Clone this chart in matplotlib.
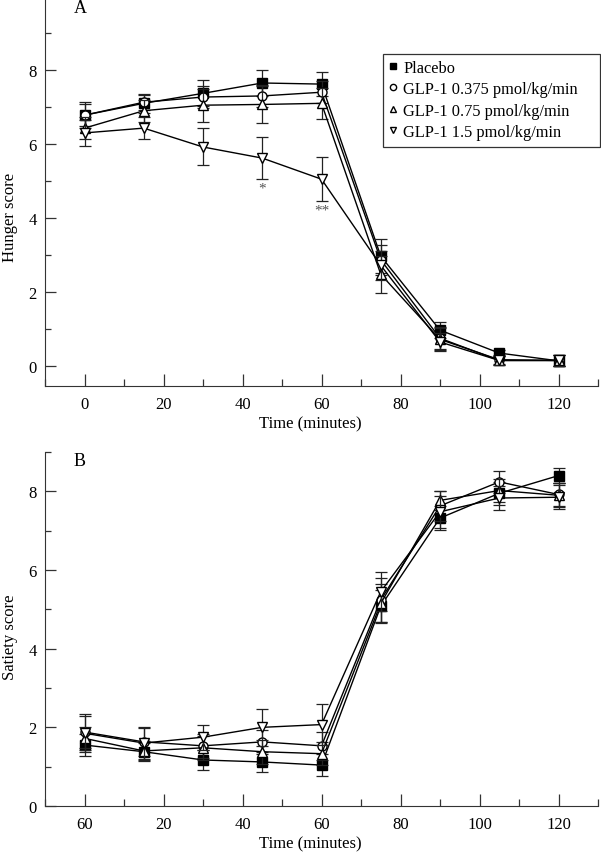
"""
    Hunger and satiety scores, GLP-1 vs placebo.
"""

import matplotlib
matplotlib.use("Agg")
import matplotlib.pyplot as plt
from matplotlib.lines import Line2D
from matplotlib.patches import Rectangle
from matplotlib.ticker import MultipleLocator

plt.rcParams['font.family'] = ['Liberation Serif', 'DejaVu Serif']

# --- data ---
times = [0, 15, 30, 45, 60, 75, 90, 105, 120]
labels = ["Placebo", "GLP-1 0.375 pmol/kg/min", "GLP-1 0.75 pmol/kg/min", "GLP-1 1.5 pmol/kg/min"]

hunger_placebo = [6.78, 7.10, 7.37, 7.65, 7.62, 2.97, 0.97, 0.35, 0.14]
hunger_placebo_err = [0.35, 0.25, 0.35, 0.35, 0.33, 0.45, 0.22, 0.08, 0.15]
hunger_low = [6.78, 7.13, 7.27, 7.30, 7.40, 2.87, 0.75, 0.15, 0.15]
hunger_low_err = [0.30, 0.20, 0.30, 0.30, 0.30, 0.40, 0.30, 0.12, 0.15]
hunger_mid = [6.43, 6.90, 7.05, 7.07, 7.10, 2.48, 0.72, 0.17, 0.15]
hunger_mid_err = [0.30, 0.30, 0.45, 0.50, 0.42, 0.50, 0.30, 0.12, 0.15]
hunger_high = [6.30, 6.43, 5.92, 5.62, 5.05, 2.72, 0.65, 0.15, 0.15]
hunger_high_err = [0.35, 0.30, 0.50, 0.57, 0.60, 0.40, 0.25, 0.12, 0.15]

satiety_placebo = [1.55, 1.38, 1.17, 1.12, 1.04, 5.08, 7.32, 7.95, 8.40]
satiety_placebo_err = [0.27, 0.22, 0.26, 0.26, 0.27, 0.40, 0.30, 0.30, 0.20]
satiety_low = [1.88, 1.63, 1.53, 1.63, 1.53, 5.24, 7.63, 8.24, 7.92]
satiety_low_err = [0.40, 0.35, 0.30, 0.30, 0.35, 0.55, 0.38, 0.28, 0.30]
satiety_mid = [1.72, 1.40, 1.48, 1.38, 1.33, 5.15, 7.77, 8.02, 7.90]
satiety_mid_err = [0.30, 0.25, 0.30, 0.30, 0.30, 0.50, 0.25, 0.30, 0.30]
satiety_high = [1.85, 1.60, 1.75, 2.00, 2.07, 5.45, 7.48, 7.83, 7.85]
satiety_high_err = [0.48, 0.40, 0.32, 0.47, 0.53, 0.50, 0.40, 0.30, 0.30]

x_ticks = [0, 20, 40, 60, 80, 100, 120]
x_ticklabels_b = ["60", "20", "40", "60", "80", "100", "120"]  # as printed in panel B

markers = ["s", "o", "^", "v"]
faces = ["black", "white", "white", "white"]

fig = plt.figure(figsize=(6.01, 8.53), dpi=100)
ax_a = fig.add_axes([45/601, 1 - 387/853, 553/601, 387/853])
ax_b = fig.add_axes([45/601, 1 - 807/853, 553/601, 354/853])


def draw_panel(ax, series, errs):
    for i in range(len(series)):
        ax.errorbar(times, series[i], yerr=errs[i], fmt="-", marker=markers[i],
                    color="black", mfc=faces[i], mec="black", ms=6.5, lw=1.0,
                    ecolor="#222222", elinewidth=0.9, capsize=4.5, capthick=0.9,
                    zorder=3 + i)


def style_axes(ax):
    ax.spines["top"].set_visible(False)
    ax.spines["right"].set_visible(False)
    ax.spines["left"].set_color("#333333")
    ax.spines["bottom"].set_color("#333333")
    ax.set_xlim(-10, 130)
    ax.set_xticks(x_ticks)
    ax.xaxis.set_minor_locator(MultipleLocator(10))
    ax.yaxis.set_major_locator(MultipleLocator(2))
    ax.yaxis.set_minor_locator(MultipleLocator(1))
    ax.tick_params(axis="x", which="major", direction="in", length=9, width=0.9, labelsize=12, pad=7, color="#333333")
    ax.tick_params(axis="x", which="minor", direction="in", length=5, width=0.9, color="#333333")
    ax.tick_params(axis="y", which="major", direction="in", length=8, width=0.9, labelsize=12, pad=6, color="#333333")
    ax.tick_params(axis="y", which="minor", direction="in", length=4, width=0.9, color="#333333")
    ax.set_xlabel("Time (minutes)", fontsize=12)


# panel A
draw_panel(ax_a, [hunger_placebo, hunger_low, hunger_mid, hunger_high],
           [hunger_placebo_err, hunger_low_err, hunger_mid_err, hunger_high_err])
style_axes(ax_a)
ax_a.set_ylim(-0.54, 9.92)
ax_a.set_ylabel("Hunger score", fontsize=12)
ax_a.yaxis.set_label_coords(-0.049, 0.437)
ax_a.xaxis.set_label_coords(0.48, -0.075)
ax_a.text(45, 4.8, "*", ha="center", va="center", fontsize=11, color="#555555")
ax_a.text(60, 4.22, "**", ha="center", va="center", fontsize=11, color="#555555")
ax_a.text(0.052, 1.0, "A", transform=ax_a.transAxes, fontsize=13, va="top")

# legend: the printed box is wider than its text, so the frame is drawn by hand
handles = []
for i in range(len(labels)):
    handles.append(Line2D([], [], ls="none", marker=markers[i], mfc=faces[i], mec="black", ms=4.5))
box_l, box_t, box_r, box_b = 383, 55, 600, 148   # pixels from top-left
leg = ax_a.legend(handles, labels, loc="upper left",
                  bbox_to_anchor=(box_l / 601, 1 - box_t / 853), bbox_transform=fig.transFigure,
                  fontsize=11.8, frameon=False,
                  handlelength=0.5, handletextpad=0.4, borderpad=0.35,
                  labelspacing=0.33, borderaxespad=0)
fig.patches.append(Rectangle((box_l / 601, 1 - box_b / 853), (box_r - box_l) / 601, (box_b - box_t) / 853,
                             transform=fig.transFigure, fill=False, ec="#333333", lw=0.9))

# panel B
draw_panel(ax_b, [satiety_placebo, satiety_low, satiety_mid, satiety_high],
           [satiety_placebo_err, satiety_low_err, satiety_mid_err, satiety_high_err])
style_axes(ax_b)
ax_b.set_ylim(0, 9)
ax_b.set_xticklabels(x_ticklabels_b)
ax_b.set_ylabel("Satiety score", fontsize=12)
ax_b.yaxis.set_label_coords(-0.049, 0.48)
ax_b.xaxis.set_label_coords(0.48, -0.082)
ax_b.text(0.052, 1.0, "B", transform=ax_b.transAxes, fontsize=13, va="top")

fig.savefig("out.png", dpi=100)
